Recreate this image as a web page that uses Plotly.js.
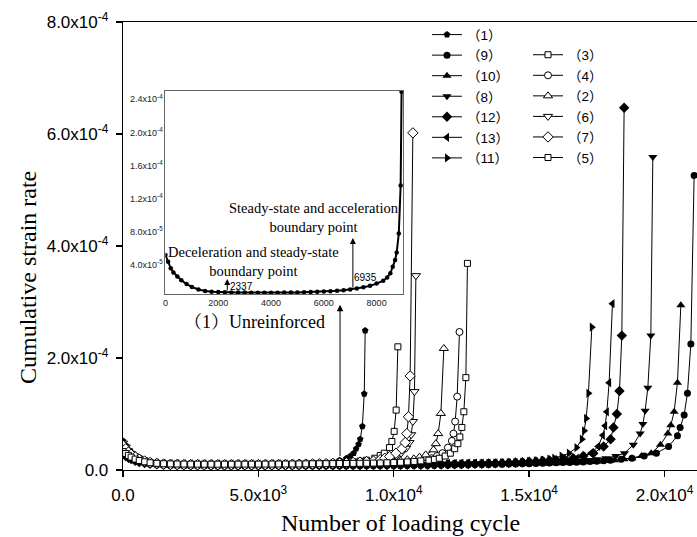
<!DOCTYPE html>
<html>
<head>
<meta charset="utf-8">
<script src="https://cdn.plot.ly/plotly-3.0.1.min.js"></script>
<style>html,body{margin:0;padding:0;background:#fff;}#chart{width:697px;height:537px;}</style>
</head>
<body>
<div id="chart"></div>
<script>
// Strain-rate values are written in units of 1e-6; x values are loading cycles.
const UNIT = 1e-6;

// Sampling positions (cycles) shared by the series
const earlyX = [0,100,200,300,450,600,800,1000,1250,1500,1750,2000];
const gridX = [2250,2500,2750,3000,3250,3500,3750,4000,4250,4500,4750,5000,5250,5500,5750,6000,6250,6500,6750,7000,
               7250,7500,7750,8000,8250,8500,8750,9000,9250,9500,9750,10000,10250,10500,10750,11000,11250,11500,11750,12000,
               12250,12500,12750,13000,13250,13500,13750,14000,14250,14500,14750,15000,15250,15500,15750,16000,16250,16500,16750,17000,
               17250,17500,17750];

// (1) Unreinforced
const x1 = [0,100,200,300,450,600,800,1000,1250,1500,1750,2000,2250,2500,2750,3000,3250,3500,3750,4000,4250,4500,4750,5000,5250,5500,5750,6000,6250,6500,6750,7000,7250,7500,7750,8000,8250,8400,8520,8610,8700,8760,8840,8910,8945];
const y1 = [52,44,36,31,26,21.5,17,13.5,10.5,8.6,7.8,7.3,7.0,6.8,6.7,6.7,6.6,6.6,6.6,6.6,6.6,6.7,6.8,6.9,7.1,7.3,7.6,7.9,8.3,8.8,9.5,10.5,11.6,13,15,17.5,21,25,30,38,46,55,78,136,249];

// (3)
const y3Early = [45,39,33,28.5,24,20,16.5,13.5,11.5,10.2,9.6,9.3];
const y3Flat = [9.1,9.0,9.0,8.9,8.9,8.9,8.9,9.0,9.0,9.0,9.1,9.1,9.2,9.3,9.4,9.6,9.8,10.0,10.3,10.6,11.0,11.5,12.0,12.7,13.5,14.5,15.8,17.5];
const x3Tail = [9300,9500,9650,9842,9930,10015,10089,10152];
const y3Tail = [21,26,30,40,51,69,107,220];

// (7)
const y7Early = [44,38,32,28,23.5,19.5,16,13.5,11.8,10.7,10.2,9.9];
const y7Flat = [9.7,9.6,9.5,9.5,9.4,9.4,9.4,9.4,9.5,9.5,9.5,9.6,9.6,9.7,9.8,9.9,10.1,10.3,10.5,10.8,11.1,11.4,11.8,12.3,12.8,13.4,14.1,15.0,16.0];
const x7Tail = [9500,9670,9850,10080,10300,10422,10484,10543,10606,10706];
const y7Tail = [18.5,21,24,30,38,49,65,95,168,602];

// (6)
const y6Early = [48,41,34,29,24,19.5,15.5,12.5,10.5,9.3,8.8,8.5];
const y6Flat = [8.3,8.1,8.0,8.0,7.9,7.9,7.9,7.9,8.0,8.0,8.1,8.2,8.3,8.4,8.5,8.7,8.9,9.1,9.3,9.6,9.9,10.2,10.6,11.0,11.6,12.3,13.1,14.0,15.2];
const x6Tail = [9590,9910,10100,10270,10460,10580,10643,10706,10765,10817];
const y6Tail = [17.5,21,25,30,39,49,63,86.5,140,347];

// (2)
const y2Early = [36,32,28,24.5,21,18,15.5,13.5,12.3,11.6,11.3,11.1];
const y2Flat = [11.0,11.0,11.0,10.9,10.9,10.9,10.9,11.0,11.0,11.0,11.0,11.1,11.1,11.2,11.2,11.3,11.4,11.5,11.6,11.7,11.8,12.0,12.1,12.3,12.5,12.7,12.9,13.2,13.5,13.9,14.4,15.3,16.5];
const x2Tail = [10500,10740,10950,11180,11467,11555,11640,11740,11851];
const y2Tail = [18.5,20,23,27,36,47,65,101,217];

// (4)
const y4Early = [42,36,31,27,22.5,19,15.5,13.3,11.8,11,10.6,10.3];
const y4Flat = [10.1,10.0,10.0,9.9,9.9,9.9,9.9,9.9,10.0,10.0,10.0,10.0,10.1,10.1,10.2,10.2,10.3,10.4,10.5,10.6,10.7,10.8,10.9,11.0,11.2,11.4,11.6,11.8,12.0,12.3,12.6,13.0,13.6,14.4,15.6];
const x4Tail = [11010,11200,11390,11600,11800,12000,12146,12205,12268,12342,12427];
const y4Tail = [17.5,19,21,25,30,40,52,65,86.5,131,246.5];

// (5)
const y5Early = [33,29.5,26,23,19.5,17,14.7,13,11.9,11.2,10.9,10.7];
const y5Flat = [10.6,10.5,10.5,10.4,10.4,10.4,10.4,10.4,10.5,10.5,10.5,10.5,10.6,10.6,10.7,10.7,10.8,10.9,11.0,11.1,11.2,11.3,11.4,11.5,11.6,11.8,11.9,12.1,12.3,12.6,12.9,13.3,13.8,14.5,15.3,16.3];
const x5Tail = [11300,11500,11680,11900,12090,12250,12368,12441,12515,12589,12663,12722];
const y5Tail = [17.5,19,21,25,30,38,47,59,76,104,165,369];

// (11)
const y11Early = [38,33,28.5,25,21,17.5,14.5,12.5,11,10.1,9.7,9.4];
const y11Flat = [9.2,9.1,9.1,9.0,9.0,9.0,8.9,8.9,8.9,8.9,8.9,8.9,8.9,8.9,8.9,9.0,9.0,9.0,9.0,9.0,9.0,9.1,9.1,9.1,9.2,9.2,9.3,9.3,9.4,9.4,9.5,9.6,9.7,9.8,9.9,10.0,10.1,10.2,10.4,10.5,10.7,10.9,11.1,11.3,11.6,11.9,12.2,12.6,13.0,13.6,14.2,15.2,16.5];
const x11Tail = [15500,15750,15930,16200,16470,16750,16947,17032,17106,17191,17316];
const y11Tail = [17.8,19.5,21,25,30,40,55,70,92,137,255];

// (13)
const y13Early = [32,28.5,25.5,22.5,19.5,17,14.8,13.3,12.2,11.6,11.3,11.2];
const y13Flat = [11.1,11.0,11.0,10.9,10.9,10.9,10.8,10.8,10.8,10.8,10.8,10.8,10.8,10.8,10.8,10.8,10.9,10.9,10.9,10.9,10.9,10.9,11.0,11.0,11.0,11.1,11.1,11.2,11.2,11.3,11.3,11.4,11.4,11.5,11.5,11.6,11.7,11.7,11.8,11.9,12.0,12.1,12.2,12.3,12.4,12.5,12.6,12.8,12.9,13.1,13.4,13.8,14.3,14.9,15.6,16.4,17.4];
const x13Tail = [16500,16760,17000,17280,17550,17722,17807,17870,17955,18077];
const y13Tail = [18.5,21,24.5,30,42,62,79,104,156,297];

// (12)
const y12Early = [28,25,22,19.5,16.5,14.3,12.3,11,10,9.4,9.1,8.9];
const y12Flat = [8.7,8.6,8.5,8.5,8.4,8.4,8.4,8.3,8.3,8.3,8.3,8.3,8.3,8.3,8.3,8.4,8.4,8.4,8.4,8.4,8.5,8.5,8.5,8.6,8.6,8.7,8.7,8.8,8.8,8.9,8.9,9.0,9.1,9.2,9.3,9.4,9.5,9.6,9.8,10.0,10.2,10.4,10.6,10.9,11.2,11.5,11.9,12.3,12.8,13.3,13.9,14.6,15.4,16.2,17.0];
const x12Tail = [16000,16300,16630,17000,17370,17750,18010,18114,18240,18336,18424,18509];
const y12Tail = [17.6,19.2,21,25,30,42,55,76,100,141,240,647];

// (8)
const y8Early = [40,35,30,26,21.5,18,15,13,11.7,10.9,10.5,10.2];
const y8Flat = [10.1,10.0,10.0,9.9,9.9,9.9,9.9,9.8,9.8,9.8,9.8,9.8,9.8,9.8,9.8,9.8,9.9,9.9,9.9,9.9,9.9,10.0,10.0,10.0,10.1,10.1,10.1,10.2,10.2,10.3,10.3,10.4,10.4,10.5,10.6,10.7,10.8,10.9,11.0,11.1,11.2,11.3,11.4,11.5,11.6,11.7,11.8,11.9,12.0,12.1,12.2,12.4,12.7,13.0,13.4,13.9,14.5,15.2,16.0];
const x8Tail = [17000,17210,17500,17830,18200,18520,18850,19100,19200,19285,19384,19495,19569];
const y8Tail = [16.8,17.8,19.2,21,25,30,45,65,82,106,147,240,559];

// (10)
const y10Early = [35,31,27,23.5,20,17,14.3,12.6,11.3,10.5,10.1,9.8];
const y10Flat = [9.6,9.5,9.5,9.4,9.4,9.4,9.3,9.3,9.3,9.3,9.3,9.3,9.3,9.3,9.3,9.3,9.3,9.4,9.4,9.4,9.4,9.4,9.5,9.5,9.5,9.5,9.6,9.6,9.6,9.7,9.7,9.8,9.8,9.9,9.9,10.0,10.0,10.1,10.1,10.2,10.3,10.4,10.5,10.6,10.7,10.8,10.9,11.0,11.1,11.2,11.3,11.4,11.5,11.7,11.9,12.1,12.4,12.8,13.2,13.8,14.5,15.3,16.2];
const x10Tail = [18000,18150,18500,18800,19150,19510,19850,20123,20234,20356,20478,20603];
const y10Tail = [17.0,17.6,19.2,21,25,30,45,65,80,104,156,294];

// (9)
const y9Early = [30,26.5,23,20,17,14.5,12.3,10.8,9.6,8.9,8.5,8.2];
const y9Flat = [8.0,7.9,7.8,7.7,7.6,7.6,7.5,7.5,7.5,7.5,7.4,7.4,7.4,7.4,7.4,7.4,7.4,7.5,7.5,7.5,7.5,7.6,7.6,7.7,7.7,7.8,7.8,7.9,7.9,8.0,8.0,8.1,8.2,8.3,8.4,8.5,8.6,8.7,8.8,9.0,9.1,9.3,9.4,9.6,9.8,10.0,10.2,10.4,10.6,10.8,11.0,11.3,11.6,12.0,12.4,12.8,13.2,13.6,13.9,14.3,15.0,15.8,16.6];
const x9Tail = [18000,18400,18800,19250,19700,20150,20478,20577,20725,20847,20973,21094];
const y9Tail = [17.5,19,21,25,30,42,61,76,98,137,225,526];

const seriesNames = ['（1）','（9）','（10）','（8）','（12）','（13）','（11）','（3）','（4）','（2）','（6）','（7）','（5）'];
const xTickVals = [0, 5000, 10000, 15000, 20000];
const xTickText = ['0.0','5.0x10<sup>3</sup>','1.0x10<sup>4</sup>','1.5x10<sup>4</sup>','2.0x10<sup>4</sup>'];
const yTickVals = [0, 2e-4, 4e-4, 6e-4, 8e-4];
const yTickText = ['0.0','2.0x10<sup>-4</sup>','4.0x10<sup>-4</sup>','6.0x10<sup>-4</sup>','8.0x10<sup>-4</sup>'];
const insetXTickVals = [0, 2000, 4000, 6000, 8000];
const insetYTickVals = [4e-5, 8e-5, 1.2e-4, 1.6e-4, 2.0e-4, 2.4e-4];
const insetYTickText = ['4.0x10<sup>-5</sup>','8.0x10<sup>-5</sup>','1.2x10<sup>-4</sup>','1.6x10<sup>-4</sup>','2.0x10<sup>-4</sup>','2.4x10<sup>-4</sup>'];

const toVal = arr => arr.map(v => v * UNIT);
const buildX = (flat, tailX) => earlyX.concat(gridX.slice(0, flat.length), tailX);
const buildY = (early, flat, tail) => early.concat(flat, tail);

const defs = [
  {name: seriesNames[0],  x: x1, y: y1, sym: 'pentagon', open: false, size: 7, legend: 'legend'},
  {name: seriesNames[1],  x: buildX(y9Flat, x9Tail),   y: buildY(y9Early, y9Flat, y9Tail),    sym: 'circle',         open: false, size: 7, legend: 'legend'},
  {name: seriesNames[2],  x: buildX(y10Flat, x10Tail), y: buildY(y10Early, y10Flat, y10Tail), sym: 'triangle-up',    open: false, size: 8, legend: 'legend'},
  {name: seriesNames[3],  x: buildX(y8Flat, x8Tail),   y: buildY(y8Early, y8Flat, y8Tail),    sym: 'triangle-down',  open: false, size: 8, legend: 'legend'},
  {name: seriesNames[4],  x: buildX(y12Flat, x12Tail), y: buildY(y12Early, y12Flat, y12Tail), sym: 'diamond',        open: false, size: 8, legend: 'legend'},
  {name: seriesNames[5],  x: buildX(y13Flat, x13Tail), y: buildY(y13Early, y13Flat, y13Tail), sym: 'triangle-left',  open: false, size: 8, legend: 'legend'},
  {name: seriesNames[6],  x: buildX(y11Flat, x11Tail), y: buildY(y11Early, y11Flat, y11Tail), sym: 'triangle-right', open: false, size: 8, legend: 'legend'},
  {name: seriesNames[7],  x: buildX(y3Flat, x3Tail),   y: buildY(y3Early, y3Flat, y3Tail),    sym: 'square',         open: true,  size: 6, legend: 'legend2'},
  {name: seriesNames[8],  x: buildX(y4Flat, x4Tail),   y: buildY(y4Early, y4Flat, y4Tail),    sym: 'circle',         open: true,  size: 7, legend: 'legend2'},
  {name: seriesNames[9],  x: buildX(y2Flat, x2Tail),   y: buildY(y2Early, y2Flat, y2Tail),    sym: 'triangle-up',    open: true,  size: 8, legend: 'legend2'},
  {name: seriesNames[10], x: buildX(y6Flat, x6Tail),   y: buildY(y6Early, y6Flat, y6Tail),    sym: 'triangle-down',  open: true,  size: 8, legend: 'legend2'},
  {name: seriesNames[11], x: buildX(y7Flat, x7Tail),   y: buildY(y7Early, y7Flat, y7Tail),    sym: 'diamond',        open: true,  size: 8, legend: 'legend2'},
  {name: seriesNames[12], x: buildX(y5Flat, x5Tail),   y: buildY(y5Early, y5Flat, y5Tail),    sym: 'square',         open: true,  size: 6, legend: 'legend2'}
];

const traces = defs.map(d => ({
  type: 'scatter', mode: 'lines+markers', name: d.name, legend: d.legend,
  x: d.x, y: toVal(d.y),
  line: {color: '#000', width: 1},
  marker: {symbol: d.sym, size: d.size, color: d.open ? '#fff' : '#000',
           line: {color: '#000', width: d.open ? 1 : 0}}
}));

// inset: series (1) only
traces.push({
  type: 'scatter', mode: 'lines+markers', xaxis: 'x2', yaxis: 'y2', showlegend: false,
  x: x1, y: toVal(y1),
  line: {color: '#000', width: 2},
  marker: {symbol: 'circle', size: 4.5, color: '#000'}
});

const serif = 'Liberation Serif, Times New Roman, Noto Serif CJK SC, Noto Sans CJK SC, serif';
const sans = 'Liberation Sans, Arial, Noto Sans CJK SC, sans-serif';

const layout = {
  width: 697, height: 537,
  margin: {l: 123, r: 0, t: 22, b: 67},
  paper_bgcolor: '#fff', plot_bgcolor: '#fff',
  font: {family: sans, color: '#000'},
  xaxis: {
    range: [0, 21200], showgrid: false, zeroline: false,
    showline: true, linecolor: '#000', linewidth: 1.3, mirror: true,
    ticks: 'outside', ticklen: 6, tickwidth: 1.3, tickcolor: '#000',
    tickvals: xTickVals, ticktext: xTickText, ticklabelstandoff: 3,
    tickfont: {family: sans, size: 17, color: '#000'}
  },
  yaxis: {
    range: [0, 8e-4], showgrid: false, zeroline: false,
    showline: true, linecolor: '#000', linewidth: 1.3,
    ticks: 'outside', ticklen: 6, tickwidth: 1.3, tickcolor: '#000',
    tickvals: yTickVals, ticktext: yTickText, ticklabelstandoff: 4,
    tickfont: {family: sans, size: 17, color: '#000'}
  },
  xaxis2: {
    domain: [0.074, 0.4883], anchor: 'y2', range: [0, 9010],
    showgrid: false, zeroline: false, showline: true, mirror: true,
    linecolor: '#666', linewidth: 1, ticks: '',
    tickvals: insetXTickVals, tickfont: {family: sans, size: 9, color: '#222'}
  },
  yaxis2: {
    domain: [0.3929, 0.846], anchor: 'x2', range: [5e-6, 2.5e-4],
    showgrid: false, zeroline: false, showline: true, mirror: true,
    linecolor: '#666', linewidth: 1, ticks: '',
    tickvals: insetYTickVals, ticktext: insetYTickText,
    tickfont: {family: sans, size: 9, color: '#222'}
  },
  showlegend: true,
  legend: {
    xref: 'paper', yref: 'paper', x: 0.5296, y: 1.006,
    xanchor: 'left', yanchor: 'top', bgcolor: 'rgba(0,0,0,0)', borderwidth: 0,
    font: {family: sans, size: 13.5, color: '#000'}, tracegroupgap: 0
  },
  legend2: {
    xref: 'paper', yref: 'paper', x: 0.7056, y: 0.961,
    xanchor: 'left', yanchor: 'top', bgcolor: 'rgba(0,0,0,0)', borderwidth: 0,
    font: {family: sans, size: 13.5, color: '#000'}, tracegroupgap: 0
  },
  annotations: [
    {xref: 'x', yref: 'y', axref: 'x', ayref: 'y', x: 8016, y: 2.95e-4, ax: 8016, ay: 2.2e-5,
     text: '', showarrow: true, arrowhead: 2, arrowsize: 1.3, arrowwidth: 1, arrowcolor: '#000', standoff: 0},
    {xref: 'x2', yref: 'y2', axref: 'x2', ayref: 'y2', x: 2341, y: 2.3e-5, ax: 2341, ay: 7.4e-6,
     text: '', showarrow: true, arrowhead: 2, arrowsize: 1.2, arrowwidth: 1, arrowcolor: '#000', standoff: 0},
    {xref: 'x2', yref: 'y2', axref: 'x2', ayref: 'y2', x: 7100, y: 7.26e-5, ax: 7100, ay: 1.1e-5,
     text: '', showarrow: true, arrowhead: 2, arrowsize: 1.2, arrowwidth: 1, arrowcolor: '#000', standoff: 0},
    {xref: 'x2', yref: 'y2', x: 2886, y: 1.38e-5, xanchor: 'center', yanchor: 'middle', text: '2337', showarrow: false,
     font: {family: sans, size: 10, color: '#000'}},
    {xref: 'x2', yref: 'y2', x: 7568, y: 2.5e-5, xanchor: 'center', yanchor: 'middle', text: '6935', showarrow: false,
     font: {family: sans, size: 10, color: '#000'}},
    {xref: 'x2', yref: 'y2', x: 5625, y: 9.73e-5, xanchor: 'center', yanchor: 'middle',
     text: 'Steady-state and acceleration<br>boundary point',
     showarrow: false, font: {family: serif, size: 14.5, color: '#000'}},
    {xref: 'x2', yref: 'y2', x: 3352, y: 4.42e-5, xanchor: 'center', yanchor: 'middle',
     text: 'Deceleration and steady-state<br>boundary point',
     showarrow: false, font: {family: serif, size: 14.5, color: '#000'}},
    {xref: 'paper', yref: 'paper', x: (254 - 123) / 574, y: (470 - 322) / 448, xanchor: 'center', yanchor: 'middle',
     text: '（1）Unreinforced', showarrow: false, font: {family: serif, size: 18, color: '#000'}},
    {xref: 'paper', yref: 'paper', x: (400 - 123) / 574, y: (470 - 523) / 448, xanchor: 'center', yanchor: 'middle',
     text: 'Number of loading cycle', showarrow: false, font: {family: serif, size: 24, color: '#000'}},
    {xref: 'paper', yref: 'paper', x: (28 - 123) / 574, y: (470 - 278) / 448, xanchor: 'center', yanchor: 'middle',
     text: 'Cumulative strain rate', textangle: -90, showarrow: false, font: {family: serif, size: 24, color: '#000'}}
  ]
};

Plotly.newPlot('chart', traces, layout, {displayModeBar: false, staticPlot: true});
</script>
</body>
</html>
